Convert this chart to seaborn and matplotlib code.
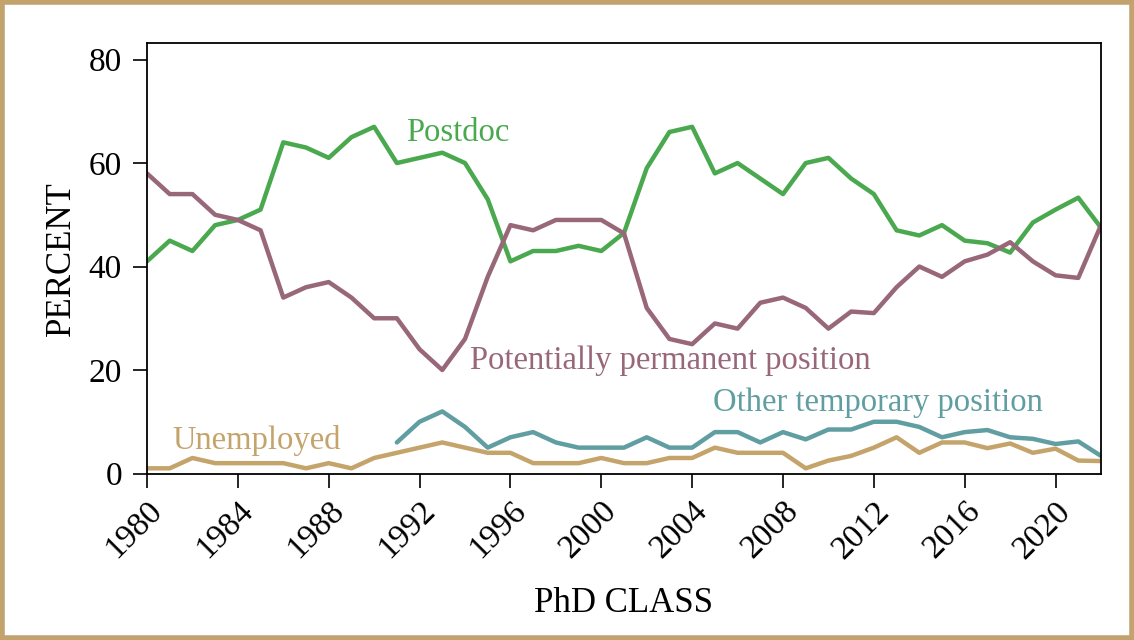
import matplotlib
matplotlib.use("Agg")
import matplotlib.pyplot as plt
from matplotlib.patches import Rectangle
import seaborn as sns
import pandas as pd

years = list(range(1980, 2023))

postdoc = [41, 45, 43, 48, 49, 51, 64, 63, 61, 65, 67, 60, 61, 62, 60, 53,
           41, 43, 43, 44, 43, 46.5, 59, 66, 67, 58, 60, 57, 54, 60, 61, 57,
           54, 47, 46, 48, 45, 44.5, 42.7, 48.5, 51, 53.3, 47.5]
permanent = [58, 54, 54, 50, 49, 47, 34, 36, 37, 34, 30, 30, 24, 20, 26, 38,
             48, 47, 49, 49, 49, 46.4, 32, 26, 25, 29, 28, 33, 34, 32, 28, 31.3,
             31, 36, 40, 38, 41, 42.3, 44.7, 41, 38.3, 37.8, 48]
temp_years = list(range(1991, 2023))
other_temp = [6, 10, 12, 9, 5, 7, 8, 6, 5, 5, 5, 7, 5, 5, 8, 8, 6, 8, 6.6,
              8.5, 8.5, 10, 10, 9, 7, 8, 8.4, 7, 6.7, 5.7, 6.2, 3.4]
unemployed = [1, 1, 3, 2, 2, 2, 2, 1, 2, 1, 3, 4, 5, 6, 5, 4, 4, 2, 2, 2, 3,
              2, 2, 3, 3, 5, 4, 4, 4, 1, 2.5, 3.4, 5, 7, 4, 6, 6, 4.9, 5.8, 4,
              4.8, 2.5, 2.4]

series_names = ["Postdoc", "Potentially permanent position",
                "Other temporary position", "Unemployed"]
colors = {"Postdoc": "#4aa84f",
          "Potentially permanent position": "#98687a",
          "Other temporary position": "#609ea2",
          "Unemployed": "#c4a46b"}

frames = [
    pd.DataFrame({"year": years, "pct": postdoc, "kind": "Postdoc"}),
    pd.DataFrame({"year": years, "pct": permanent,
                  "kind": "Potentially permanent position"}),
    pd.DataFrame({"year": temp_years, "pct": other_temp,
                  "kind": "Other temporary position"}),
    pd.DataFrame({"year": years, "pct": unemployed, "kind": "Unemployed"}),
]
df = pd.concat(frames, ignore_index=True)

sns.set_style("ticks")
plt.rcParams["font.family"] = ["Liberation Serif", "DejaVu Serif"]
plt.rcParams["text.color"] = "black"
plt.rcParams["axes.labelcolor"] = "black"
plt.rcParams["xtick.color"] = "black"
plt.rcParams["ytick.color"] = "black"

fig = plt.figure(figsize=(11.34, 6.4), dpi=100)
ax = fig.add_axes([147 / 1134, 1 - 473.5 / 640, (1101 - 147) / 1134,
                   (473.5 - 43) / 640])

sns.lineplot(data=df, x="year", y="pct", hue="kind", hue_order=series_names,
             palette=colors, linewidth=3.2, legend=False, ax=ax)

# labels next to the lines
label_pos = {"Postdoc": (1991.4, 65.8),
             "Potentially permanent position": (1994.2, 21.7),
             "Other temporary position": (2004.9, 13.6),
             "Unemployed": (1981.1, 6.3)}
for name in series_names:
    x, y = label_pos[name]
    ax.text(x, y, name, color=colors[name], fontsize=23.5,
            ha="left", va="center")

ax.set_xlim(1980, 2022)
ax.set_ylim(0, 83.2)
ax.set_xticks(range(1980, 2021, 4))
ax.set_yticks([0, 20, 40, 60, 80])
ax.tick_params(labelsize=24, length=10, width=1.2)
ax.tick_params(axis="x", pad=6)
ax.tick_params(axis="y", pad=8)
plt.setp(ax.get_xticklabels(), rotation=45, ha="right", rotation_mode="anchor")
for s in ax.spines.values():
    s.set_linewidth(1.3)
    s.set_color("black")
ax.set_xlabel("PhD CLASS", fontsize=25, labelpad=16)
ax.set_ylabel("PERCENT", fontsize=25, labelpad=8)

fig.patches.append(Rectangle((0.002, 0.003), 0.996, 0.994,
                             transform=fig.transFigure, fill=False,
                             edgecolor="#c2a36d", linewidth=4))

fig.savefig("out.png", dpi=100)
